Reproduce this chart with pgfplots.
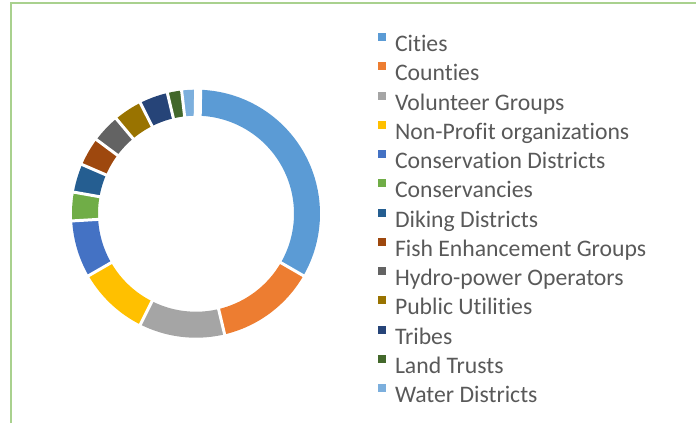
\documentclass[border=0pt]{standalone}
\usepackage{pgfplots}
\usepackage{pgfplotstable}
\pgfplotsset{compat=1.18}
\usepgfplotslibrary{polar}
\usepackage{fontspec}
\setmainfont{Carlito}[Ligatures=NoCommon]

\definecolor{c0}{HTML}{5B9BD5}
\definecolor{c1}{HTML}{ED7D31}
\definecolor{c2}{HTML}{A5A5A5}
\definecolor{c3}{HTML}{FFC000}
\definecolor{c4}{HTML}{4472C4}
\definecolor{c5}{HTML}{70AD47}
\definecolor{c6}{HTML}{255E91}
\definecolor{c7}{HTML}{9E480E}
\definecolor{c8}{HTML}{636363}
\definecolor{c9}{HTML}{997300}
\definecolor{c10}{HTML}{264478}
\definecolor{c11}{HTML}{43682B}
\definecolor{c12}{HTML}{7CAFDD}
\definecolor{textgray}{HTML}{595959}
\definecolor{framegreen}{HTML}{A9D18E}

\pgfplotstableread[col sep=comma]{
name,value
Cities,18
Counties,7
Volunteer Groups,6
Non-Profit organizations,5
Conservation Districts,4
Conservancies,2
Diking Districts,2
Fish Enhancement Groups,2
Hydro-power Operators,2
Public Utilities,2
Tribes,2
Land Trusts,1
Water Districts,1
}\counts

\begin{document}
\begin{tikzpicture}[x=1bp,y=1bp]
\useasboundingbox (0,0) rectangle (696,423);
\draw[color=framegreen, line width=2bp] (11,0) -- (11,420) -- (696,420);
\coordinate (legpos) at (182,180.7);
\begin{polaraxis}[
  at={(196bp,209.3bp)}, anchor=origin,
  width=248bp, height=248bp, scale only axis,
  ymin=0, ymax=124, xmin=0, xmax=360,
  hide axis, clip=false,
  legend cell align=left,
  legend image code/.code={\fill[#1, draw=none] (0bp,3bp) rectangle (8bp,11bp);},
  legend style={at={(legpos)}, anchor=north west, draw=none, fill=none,
    inner sep=0pt, outer sep=0pt,
    font=\fontsize{23.8}{28}\selectfont, text=textgray,
    row sep=10.6bp, column sep=9bp,
    nodes={inner sep=0pt, text height=15.3bp, text depth=0bp}},
]
\pgfplotstablegetrowsof{\counts}
\pgfmathtruncatemacro\nrows{\pgfplotsretval-1}
\def\total{0}
\pgfplotsforeachungrouped \i in {0,...,\nrows}{%
  \pgfplotstablegetelem{\i}{value}\of\counts
  \pgfmathsetmacro\total{\total+\pgfplotsretval}%
}
\def\cum{0}
\pgfplotsforeachungrouped \i in {0,...,\nrows}{%
  \pgfplotstablegetelem{\i}{value}\of\counts
  \let\v\pgfplotsretval
  \pgfmathsetmacro\a{90-360*(\cum/\total)}%
  \pgfmathsetmacro\cum{\cum+\v}%
  \pgfmathsetmacro\b{90-360*(\cum/\total)}%
  \pgfplotstablegetelem{\i}{name}\of\counts
  \let\nm\pgfplotsretval
  \edef\cmd{\noexpand\addplot[color=c\i, line width=26bp, line cap=butt, no markers, domain=\b:\a, samples=60] {111};
    \noexpand\addlegendentry{\nm}}%
  \cmd
}
\def\cum{0}
\pgfplotsforeachungrouped \i in {0,...,\nrows}{%
  \pgfplotstablegetelem{\i}{value}\of\counts
  \pgfmathsetmacro\cum{\cum+\pgfplotsretval}%
  \pgfmathsetmacro\b{90-360*(\cum/\total)}%
  \edef\cmd{\noexpand\addplot[white, line width=3bp, forget plot, no markers] coordinates {(\b,94) (\b,128)};}%
  \cmd
}
\addplot[white, line width=8bp, forget plot, no markers] coordinates {(89,94) (89,128)};
\end{polaraxis}
\end{tikzpicture}
\end{document}
